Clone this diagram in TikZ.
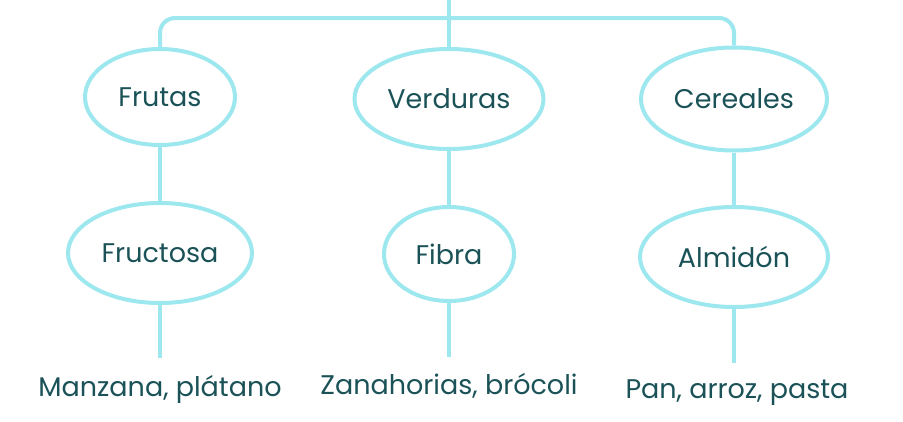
\documentclass[tikz,border=0pt]{standalone}
\usepackage{fontspec}
\setmainfont{Poppins}
\usetikzlibrary{shapes.geometric}

\definecolor{linea}{HTML}{9DE7EE}
\definecolor{texto}{HTML}{1A5257}

\begin{document}
\begin{tikzpicture}[x=1pt, y=-1pt,
        grupo/.style={ellipse, draw=linea, line width=4pt, text=texto, inner sep=0pt,
            font=\fontsize{27}{32}\selectfont},
        ejemplo/.style={text=texto, inner sep=0pt, font=\fontsize{27}{32}\selectfont},
        rama/.style={draw=linea, line width=4pt}]
            \useasboundingbox (0, 0) rectangle (903, 421);
            \coordinate (raiz) at (449, 0);
            \coordinate (barra) at (449, 18);

            % grupos
            \node[grupo, minimum width=150pt, minimum height=96pt] (frutas) at (160, 97) {Frutas};
            \node[grupo, minimum width=189pt, minimum height=100pt] (verduras) at (449, 99) {Verduras};
            \node[grupo, minimum width=186pt, minimum height=103pt] (cereales) at (734, 99) {Cereales};

            % nutrientes
            \node[grupo, minimum width=184pt, minimum height=100pt] (fructosa) at (160, 253) {Fructosa};
            \node[grupo, minimum width=130pt, minimum height=94pt] (fibra) at (449, 254) {Fibra};
            \node[grupo, minimum width=188pt, minimum height=100pt] (almidon) at (734, 257) {Almidón};

            % ejemplos
            \node[ejemplo] (ejfrutas) at (160, 389) {Manzana, plátano};
            \node[ejemplo] (ejverduras) at (449, 386) {Zanahorias, brócoli};
            \node[ejemplo] (ejcereales) at (737, 393) {Pan, arroz, pasta};
            \coordinate (finfrutas) at (160, 358);
            \coordinate (finverduras) at (449, 357);
            \coordinate (fincereales) at (734, 363);

            \draw[rama] (raiz) -- (verduras.north);
            \draw[rama, rounded corners=15pt] (frutas.north) |- (barra) -| (cereales.north);
            \foreach \a/\b/\c in {frutas/fructosa/finfrutas, verduras/fibra/finverduras, cereales/almidon/fincereales}
            {
                \draw[rama] (\a.south) -- (\b.north);
                \draw[rama] (\b.south) -- (\c);
            }
        \end{tikzpicture}
\end{document}
